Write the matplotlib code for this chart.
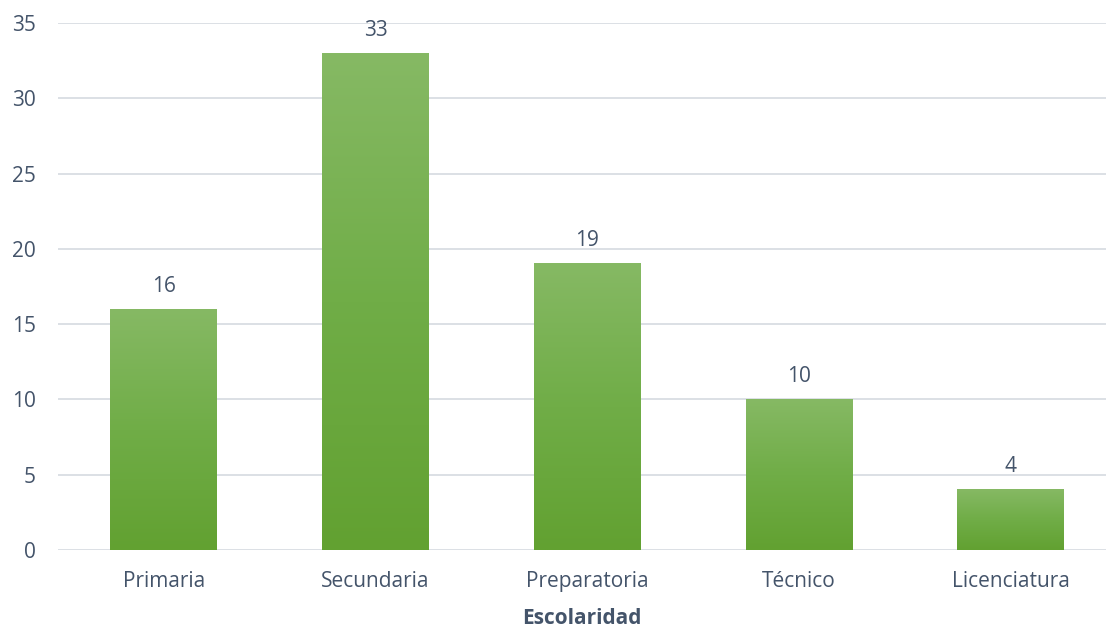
import numpy as np
import matplotlib.pyplot as plt
from matplotlib.colors import LinearSegmentedColormap

categorias = ['Primaria', 'Secundaria', 'Preparatoria', 'Técnico', 'Licenciatura']
valores = [16, 33, 19, 10, 4]
yticks = [0, 5, 10, 15, 20, 25, 30, 35]

texto = '#44546a'
plt.rcParams['font.family'] = ['Open Sans', 'DejaVu Sans']

fig = plt.figure(figsize=(11.06, 6.28), dpi=100)
ax = fig.add_axes([58 / 1106, 78 / 628, 1 - 58 / 1106, (550 - 23) / 628])

# degradado vertical de las barras (oscuro abajo, claro arriba)
cmap = LinearSegmentedColormap.from_list('verde', ['#62a131', '#70ad47', '#86b964'])
grad = np.linspace(0, 1, 256).reshape(-1, 1)

ancho = 0.505
x = np.arange(len(categorias))
for xi, v in zip(x, valores):
    ax.imshow(grad, cmap=cmap, origin='lower', aspect='auto',
              extent=(xi - ancho / 2, xi + ancho / 2, 0, v), zorder=3)
    ax.annotate(str(v), (xi, v), xytext=(0, 9), textcoords='offset points',
                ha='center', va='bottom', fontsize=15, color=texto)

ax.set_xlim(-0.5, -0.5 + (1106 - 58) / 211.75)
ax.set_ylim(0, 35)
ax.set_yticks(yticks)
ax.set_xticks(x)
ax.set_xticklabels(categorias)
ax.yaxis.grid(True, color='#d9dde3', linewidth=1.3, zorder=0)
ax.set_axisbelow(True)
for s in ax.spines.values():
    s.set_visible(False)
ax.tick_params(axis='both', length=0, labelsize=15, labelcolor=texto)
ax.tick_params(axis='y', pad=16)
ax.tick_params(axis='x', pad=15)
ax.set_xlabel('Escolaridad', fontsize=15, fontweight='bold', color=texto, labelpad=12)

fig.savefig('out.png', dpi=100)
